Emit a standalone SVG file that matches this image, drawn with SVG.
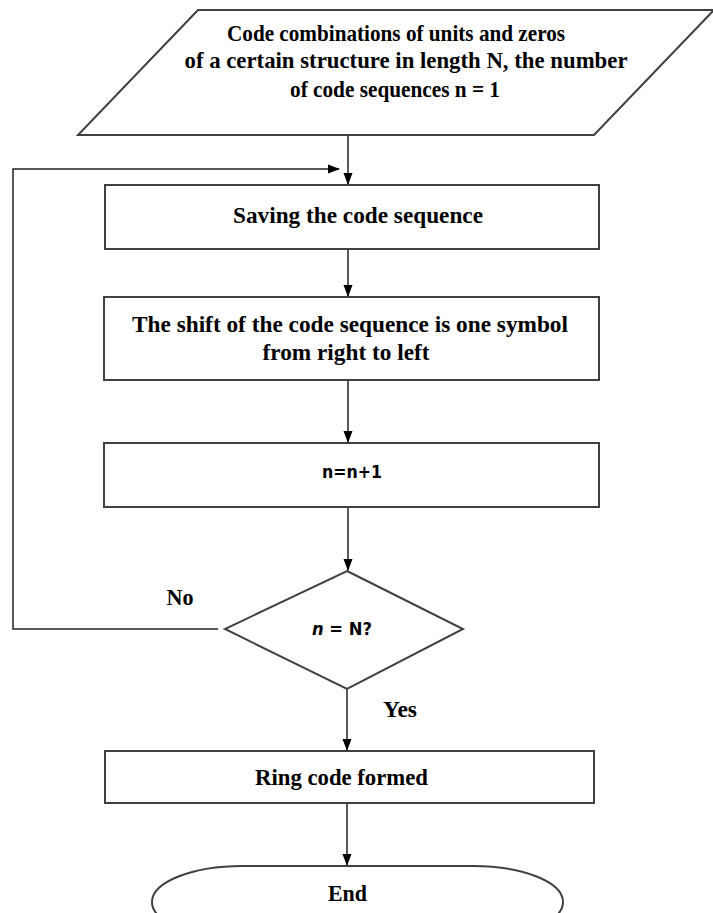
<svg xmlns="http://www.w3.org/2000/svg" width="713" height="913" viewBox="0 0 713 913">
<style>
.shape{fill:#fff;stroke:#404040;stroke-width:2}
.ln{fill:none;stroke:#222;stroke-width:1.5}
.t{font-family:"Liberation Serif","Times New Roman",serif;font-weight:bold;font-size:23px;fill:#000;text-anchor:middle}
.s{font-family:"DejaVu Sans","Verdana",sans-serif;font-weight:bold;font-size:17px;fill:#000;text-anchor:middle}
</style>
<defs>
<marker id="arr" markerWidth="12" markerHeight="12" refX="11" refY="6" orient="auto" markerUnits="userSpaceOnUse">
<path d="M0,1.5 L12,6 L0,10.5 Z" fill="#000"/>
</marker>
</defs>
<rect width="713" height="913" fill="#fff"/>
<g id="connectors">
<line class="ln" x1="348" y1="135" x2="348" y2="184" marker-end="url(#arr)"/>
<line class="ln" x1="348" y1="249" x2="348" y2="296" marker-end="url(#arr)"/>
<line class="ln" x1="348" y1="380" x2="348" y2="442" marker-end="url(#arr)"/>
<line class="ln" x1="348" y1="507" x2="348" y2="570" marker-end="url(#arr)"/>
<line class="ln" x1="347" y1="689" x2="347" y2="750" marker-end="url(#arr)"/>
<line class="ln" x1="347" y1="803" x2="347" y2="865" marker-end="url(#arr)"/>
<polyline class="ln" points="218,629 13,629 13,169 339,169" marker-end="url(#arr)"/>
<text class="t" x="180" y="605" textLength="27" lengthAdjust="spacingAndGlyphs">No</text>
<text class="t" x="400" y="717" textLength="34" lengthAdjust="spacingAndGlyphs">Yes</text>
</g>
<g id="input">
<polygon class="shape" points="198,10 714,10 594,135 78,135"/>
<text class="t" x="396" y="41" textLength="338" lengthAdjust="spacingAndGlyphs">Code combinations of units and zeros</text>
<text class="t" x="406" y="68" textLength="443" lengthAdjust="spacingAndGlyphs">of a certain structure in length N, the number</text>
<text class="t" x="395" y="97" textLength="210" lengthAdjust="spacingAndGlyphs">of code sequences n = 1</text>
</g>
<g id="save">
<rect class="shape" x="105" y="185" width="494" height="64"/>
<text class="t" x="358" y="223" textLength="250" lengthAdjust="spacingAndGlyphs">Saving the code sequence</text>
</g>
<g id="shift">
<rect class="shape" x="104" y="297" width="495" height="83"/>
<text class="t" x="350" y="332" textLength="436" lengthAdjust="spacingAndGlyphs">The shift of the code sequence is one symbol</text>
<text class="t" x="346" y="360" textLength="167" lengthAdjust="spacingAndGlyphs">from right to left</text>
</g>
<g id="increment">
<rect class="shape" x="104" y="443" width="495" height="64"/>
<text class="s" x="352" y="478" textLength="60" lengthAdjust="spacingAndGlyphs">n=n+1</text>
</g>
<g id="decision">
<polygon class="shape" points="347,571 463,629 347,689 225,629"/>
<text class="s" x="342" y="635" textLength="60" lengthAdjust="spacingAndGlyphs"><tspan font-style="italic">n</tspan> = N?</text>
</g>
<g id="ring">
<rect class="shape" x="105" y="751" width="489" height="52"/>
<text class="t" x="341.5" y="785" textLength="173" lengthAdjust="spacingAndGlyphs">Ring code formed</text>
</g>
<g id="end">
<rect class="shape" x="152" y="866" width="411" height="72" rx="90" ry="36"/>
<text class="t" x="347.5" y="901" textLength="39" lengthAdjust="spacingAndGlyphs">End</text>
</g>
</svg>
